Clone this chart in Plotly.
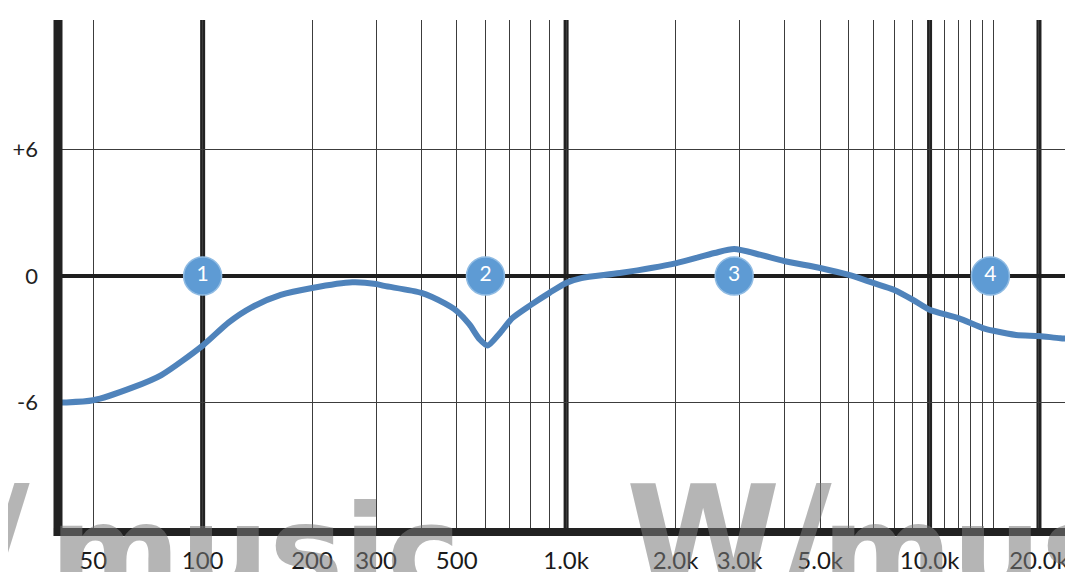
import math
import plotly.graph_objects as go

# ---------------- data ----------------
freq_hz = [20, 42, 50, 64, 77, 100, 118, 136, 164, 200, 258, 300, 316, 400, 464, 500,
           542, 578, 608, 658, 711, 800, 900, 1000, 1102, 1405, 2000, 2560, 2900, 3435,
           4000, 5000, 6000, 7000, 8000, 9000, 10000, 12000, 14000, 15000, 17300, 20000,
           22900, 26000]
gain_db = [-6.0, -6.0, -5.9, -5.3, -4.7, -3.3, -2.2, -1.5, -0.9, -0.57, -0.3, -0.38,
           -0.47, -0.8, -1.3, -1.66, -2.3, -3.0, -3.3, -2.7, -2.0, -1.37, -0.8, -0.33,
           -0.1, 0.14, 0.6, 1.09, 1.28, 1.0, 0.7, 0.38, 0.05, -0.33, -0.66, -1.13, -1.6,
           -2.0, -2.47, -2.6, -2.8, -2.85, -2.95, -3.0]

band_labels = ["1", "2", "3", "4"]
band_freq = [100, 600, 2900, 14700]
band_gain = [0, 0, 0, 0]

grid_freqs = [50, 100, 200, 300, 400, 500, 600, 700, 800, 900, 1000, 2000, 3000, 4000,
              5000, 6000, 7000, 8000, 9000, 10000, 11000, 12000, 13000, 14000, 15000, 20000]
tick_text = {50: "50", 100: "100", 200: "200", 300: "300", 500: "500", 1000: "1.0k",
             2000: "2.0k", 3000: "3.0k", 5000: "5.0k", 10000: "10.0k", 20000: "20.0k"}
heavy_freqs = [100, 1000, 10000, 20000]

y_ticks = [-6, 0, 6]
y_tick_text = ["-6", "0", "+6"]

watermark_words = ["W/", "music", "W/", "music"]

# ---------------- layout constants ----------------
W, H = 1073, 572
ML, MR, MT, MB = 50, 0, 12, 48
PW, PH = W - ML - MR, H - MT - MB

# ---------------- figure ----------------
fig = go.Figure()

fig.add_trace(go.Scatter(
    x=freq_hz, y=gain_db, mode="lines",
    line=dict(color="#4f83bb", width=6, shape="spline", smoothing=0.7),
    hoverinfo="skip", showlegend=False,
))

fig.add_trace(go.Scatter(
    x=band_freq, y=band_gain, mode="markers+text",
    text=band_labels, textposition="middle center",
    textfont=dict(family="Lato", size=21, color="white"),
    marker=dict(size=38, color="#5e9bd4", line=dict(color="#8fbbe3", width=1.5)),
    hoverinfo="skip", showlegend=False, cliponaxis=False,
))

shapes = []
for f in heavy_freqs:
    shapes.append(dict(type="line", xref="x", yref="paper", x0=f, x1=f, y0=0, y1=1,
                       line=dict(color="#222222", width=5), layer="between"))
# left and bottom heavy frame
shapes.append(dict(type="line", xref="paper", yref="paper", x0=0, x1=0, y0=-0.008, y1=1,
                   line=dict(color="#222222", width=9), layer="above"))
shapes.append(dict(type="line", xref="paper", yref="paper", x0=-0.004, x1=1, y0=0, y1=0,
                   line=dict(color="#222222", width=8), layer="above"))

# faint watermark lettering across the bottom
wm_specs = [(24, "right", 140, 446), (40, "left", 125, 468),
            (616, "left", 140, 446), (812, "left", 125, 468)]
annotations = []
for word, (px, anchor, size, top) in zip(watermark_words, wm_specs):
    annotations.append(dict(text=word, xref="paper", yref="paper",
                            x=(px - ML) / PW, y=(H - MB - top) / PH,
                            xanchor=anchor, yanchor="top", showarrow=False,
                            font=dict(family="DejaVu Sans", size=size, color="#7a7a7a",
                                      weight="bold"),
                            opacity=0.55))

fig.update_layout(
    width=W, height=H,
    margin=dict(l=ML, r=MR, t=MT, b=MB),
    paper_bgcolor="white", plot_bgcolor="white",
    shapes=shapes, annotations=annotations,
    xaxis=dict(
        type="log", range=[math.log10(40), math.log10(26100)],
        tickmode="array", tickvals=grid_freqs,
        ticktext=[tick_text.get(f, "") for f in grid_freqs],
        showgrid=True, gridcolor="#3c3c3c", gridwidth=1.3,
        showline=False, zeroline=False, ticks="",
        tickfont=dict(family="Lato", size=24, color="#1a1a1a"),
        ticklabelstandoff=12,
    ),
    yaxis=dict(
        range=[-12.15, 12.15],
        tickmode="array", tickvals=y_ticks, ticktext=y_tick_text,
        showgrid=True, gridcolor="#3c3c3c", gridwidth=1.3,
        zeroline=True, zerolinecolor="#1e1e1e", zerolinewidth=3.5,
        showline=False, ticks="",
        tickfont=dict(family="Lato", size=22, color="#222222"),
        ticklabelstandoff=19,
    ),
)

fig.write_html("out.html")
